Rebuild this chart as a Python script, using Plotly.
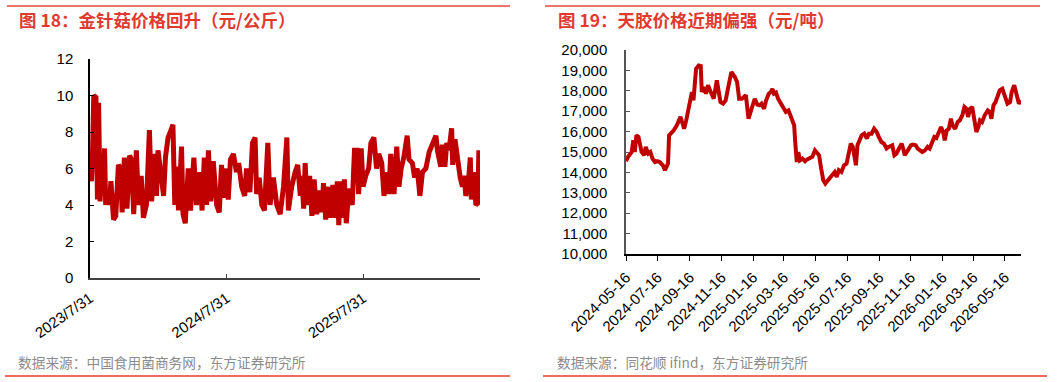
import plotly.graph_objects as go

# ---------------- data ----------------
mush_dates = [
    "2023-07-31","2023-08-04","2023-08-07","2023-08-10","2023-08-16","2023-08-20","2023-08-23","2023-08-27","2023-09-01","2023-09-04",
    "2023-09-08","2023-09-11","2023-09-16","2023-09-21","2023-09-25","2023-10-02","2023-10-08","2023-10-15","2023-10-21","2023-10-25",
    "2023-10-31","2023-11-07","2023-11-14","2023-11-19","2023-11-25","2023-12-02","2023-12-08","2023-12-15","2023-12-21","2023-12-29",
    "2024-01-06","2024-01-12","2024-01-20","2024-01-25","2024-01-29","2024-02-04","2024-02-13","2024-02-18","2024-02-25","2024-03-02",
    "2024-03-09","2024-03-14","2024-03-18","2024-03-24","2024-04-01","2024-04-05","2024-04-11","2024-04-19","2024-04-25","2024-05-04",
    "2024-05-11","2024-05-20","2024-05-26","2024-06-01","2024-06-07","2024-06-12","2024-06-18","2024-06-25","2024-07-04","2024-07-11",
    "2024-07-17","2024-07-23","2024-07-31","2024-08-04","2024-08-10","2024-08-18","2024-08-26","2024-09-01","2024-09-09","2024-09-17",
    "2024-09-22","2024-10-01","2024-10-08","2024-10-15","2024-10-19","2024-10-26","2024-11-02","2024-11-09","2024-11-18","2024-11-24",
    "2024-12-03","2024-12-12","2024-12-21","2024-12-30","2025-01-08","2025-01-12","2025-01-21","2025-01-30","2025-02-06","2025-02-13",
    "2025-02-17","2025-02-22","2025-02-26","2025-03-03","2025-03-10","2025-03-16","2025-03-22","2025-03-29","2025-04-06","2025-04-12",
    "2025-04-16","2025-04-22","2025-04-30","2025-05-04","2025-05-11","2025-05-18","2025-05-23","2025-05-27","2025-05-31","2025-06-05",
    "2025-06-11","2025-06-16","2025-06-23","2025-07-02","2025-07-08","2025-07-15","2025-07-19","2025-07-26","2025-07-31","2025-08-07",
    "2025-08-15","2025-08-21","2025-08-29","2025-09-05","2025-09-11","2025-09-19","2025-09-25","2025-10-02","2025-10-08","2025-10-13",
    "2025-10-22","2025-10-29","2025-11-04","2025-11-10","2025-11-17","2025-11-26","2025-12-01","2025-12-10","2025-12-16","2025-12-23",
    "2025-12-30","2026-01-06","2026-01-15","2026-01-24","2026-02-02","2026-02-11","2026-02-15","2026-02-24","2026-02-28","2026-03-07",
    "2026-03-12","2026-03-18","2026-03-25","2026-03-28","2026-04-03","2026-04-10","2026-04-17","2026-04-23","2026-04-28","2026-05-02",
    "2026-05-08","2026-05-14","2026-05-17","2026-05-23","2026-05-29","2026-06-03","2026-06-06","2026-06-09",
]
mush_price = [
    6.8,5.3,7.0,10.0,9.9,4.3,9.6,4.2,6.8,4.5,
    7.1,4.0,4.8,4.0,5.3,3.2,3.4,6.2,6.0,3.6,
    6.6,3.8,6.7,6.5,3.5,7.0,4.0,5.6,3.3,4.0,
    8.1,4.2,6.8,4.5,7.0,6.0,4.5,6.6,7.7,8.0,
    8.4,4.0,6.1,3.7,7.2,3.5,3.0,6.0,3.7,6.6,
    4.0,5.8,3.7,6.6,4.0,7.0,4.2,6.4,4.0,3.6,
    6.2,4.4,6.0,4.3,6.5,6.8,5.8,6.3,5.0,4.5,
    6.0,4.7,7.4,7.7,4.6,5.5,4.0,3.7,7.4,4.0,
    5.5,4.0,3.5,5.0,7.7,3.7,5.0,5.8,6.2,4.5,
    5.6,3.8,6.3,4.0,5.6,3.4,5.4,3.5,4.8,3.6,
    5.2,3.2,5.0,3.3,5.1,3.3,5.3,2.9,5.3,3.3,
    5.4,3.0,4.9,4.0,7.0,7.0,4.6,7.1,5.0,5.6,
    6.0,7.4,7.7,6.0,6.8,6.3,4.5,5.8,4.6,6.8,
    4.6,7.2,5.0,6.0,6.6,7.8,6.5,6.3,5.5,6.0,
    4.5,5.8,6.0,6.9,7.4,7.8,7.0,6.1,7.3,6.1,
    7.4,7.0,8.2,6.2,7.6,6.5,5.5,5.0,5.6,4.5,
    5.0,6.6,4.3,5.8,4.0,4.1,7.0,4.6,
]
mush_tickvals = ["2023-07-31", "2024-07-31", "2025-07-31"]
mush_ticktext = ["2023/7/31", "2024/7/31", "2025/7/31"]

rubber_dates = [
    "2024-05-16","2024-05-20","2024-05-27","2024-05-30","2024-06-02","2024-06-05","2024-06-09","2024-06-12","2024-06-15","2024-06-20",
    "2024-06-23","2024-06-28","2024-07-02","2024-07-06","2024-07-11","2024-07-15","2024-07-20","2024-07-26","2024-07-30","2024-08-02",
    "2024-08-05","2024-08-07","2024-08-12","2024-08-16","2024-08-22","2024-08-27","2024-08-29","2024-09-01","2024-09-05","2024-09-09",
    "2024-09-12","2024-09-16","2024-09-20","2024-09-23","2024-09-25","2024-09-28","2024-10-03","2024-10-07","2024-10-09","2024-10-13",
    "2024-10-17","2024-10-21","2024-10-25","2024-10-29","2024-11-01","2024-11-07","2024-11-10","2024-11-14","2024-11-19","2024-11-24",
    "2024-11-29","2024-12-05","2024-12-12","2024-12-16","2024-12-20","2024-12-25","2024-12-29","2025-01-02","2025-01-07","2025-01-11",
    "2025-01-15","2025-01-19","2025-01-24","2025-01-28","2025-02-01","2025-02-06","2025-02-10","2025-02-15","2025-02-19","2025-02-22",
    "2025-02-25","2025-03-01","2025-03-05","2025-03-10","2025-03-15","2025-03-20","2025-03-25","2025-03-29","2025-04-02","2025-04-05",
    "2025-04-07","2025-04-10","2025-04-13","2025-04-16","2025-04-21","2025-04-26","2025-04-30","2025-05-05","2025-05-10","2025-05-15",
    "2025-05-19","2025-05-23","2025-05-27","2025-05-31","2025-06-04","2025-06-10","2025-06-16","2025-06-22","2025-06-26","2025-06-30",
    "2025-07-05","2025-07-10","2025-07-15","2025-07-18","2025-07-23","2025-07-27","2025-07-30","2025-08-02","2025-08-05","2025-08-10",
    "2025-08-13","2025-08-18","2025-08-23","2025-08-27","2025-09-01","2025-09-06","2025-09-11","2025-09-15","2025-09-20","2025-09-25",
    "2025-09-30","2025-10-04","2025-10-11","2025-10-15","2025-10-19","2025-10-24","2025-10-29","2025-11-01","2025-11-04","2025-11-10",
    "2025-11-16","2025-11-20","2025-11-25","2025-11-29","2025-12-03","2025-12-08","2025-12-13","2025-12-18","2025-12-22","2025-12-26",
    "2025-12-31","2026-01-04","2026-01-09","2026-01-13","2026-01-17","2026-01-20","2026-01-24","2026-01-28","2026-02-01","2026-02-04",
    "2026-02-09","2026-02-14","2026-02-18","2026-02-23","2026-02-27","2026-03-03","2026-03-06","2026-03-10","2026-03-14","2026-03-18",
    "2026-03-22","2026-03-26","2026-03-29","2026-04-02","2026-04-07","2026-04-13","2026-04-17","2026-04-20","2026-04-24","2026-04-28",
    "2026-05-02","2026-05-06","2026-05-11","2026-05-16","2026-05-21","2026-05-26","2026-05-29","2026-06-03","2026-06-07","2026-06-12",
    "2026-06-16",
]
rubber_price = [
    14550,14760,15000,15570,15000,15820,15740,15330,15000,14840,
    15250,14920,15000,14680,14510,14550,14510,14350,14110,14270,
    14430,15820,15950,16060,16310,16550,16720,16470,16140,16550,
    16880,17450,17940,17530,18180,19080,19240,19210,17940,18180,
    17860,18270,18020,17780,17610,18510,18100,17450,17370,17530,
    18180,18920,18670,18430,17610,17610,17690,17780,16630,16960,
    17290,17610,17320,17290,17370,17120,17530,17860,17940,18100,
    17860,17910,17610,17370,17120,16960,17040,16800,16550,16310,
    15490,14510,15000,14590,14680,14550,14640,14680,14760,15080,
    14920,14840,14190,13620,13450,13620,13860,14020,13780,14110,
    14020,14350,14430,14840,15410,15250,14840,14350,15330,15660,
    15820,15900,15660,15900,15900,16140,15980,15740,15490,15410,
    15170,15250,15330,14840,14920,15170,15410,15170,14840,15080,
    15330,15360,15330,15170,15080,15000,15080,15250,15170,15490,
    15740,15690,16060,16230,15980,15570,16060,16140,16630,16310,
    16140,16470,16550,16800,17210,17120,16720,17120,17210,16470,
    15980,16230,16550,16470,16800,17040,16960,16630,17290,17450,
    17690,18020,18100,17780,17370,17450,17940,18270,17780,17370,
    17530,
]
rubber_tickvals = ["2024-05-16","2024-07-16","2024-09-16","2024-11-16","2025-01-16","2025-03-16",
                   "2025-05-16","2025-07-16","2025-09-16","2025-11-16","2026-01-16","2026-03-16","2026-05-16"]
rubber_ticktext = rubber_tickvals

title_left = "图 18：金针菇价格回升（元/公斤）"
title_right = "图 19：天胶价格近期偏强（元/吨）"
source_left = "数据来源：中国食用菌商务网，东方证券研究所"
source_right = "数据来源：同花顺 ifind，东方证券研究所"

# ---------------- figure ----------------
W, H = 1061, 382
LINE = "#C00000"
RED = "#E03A2F"
LAT = "Liberation Sans, Arial, sans-serif"
CJK = "Noto Sans CJK SC, sans-serif"

fig = go.Figure()
fig.add_trace(go.Scatter(x=mush_dates, y=mush_price, mode="lines",
                         line=dict(color=LINE, width=5), xaxis="x", yaxis="y",
                         showlegend=False, hoverinfo="skip"))
fig.add_trace(go.Scatter(x=rubber_dates, y=rubber_price, mode="lines",
                         line=dict(color=LINE, width=4), xaxis="x2", yaxis="y2",
                         showlegend=False, hoverinfo="skip"))

tickfont = dict(family=LAT, size=15, color="#000000")

fig.update_layout(
    width=W, height=H, margin=dict(l=0, r=0, t=0, b=0, pad=0, autoexpand=False),
    paper_bgcolor="white", plot_bgcolor="white",
    xaxis=dict(domain=[90 / W, 480 / W], type="date",
               range=["2023-07-31", "2026-06-09"],
               tickvals=mush_tickvals, ticktext=mush_ticktext, tickangle=-35,
               showline=True, linecolor="#404040", linewidth=1.5,
               ticks="inside", ticklen=4, tickcolor="#404040",
               showgrid=False, zeroline=False, tickfont=tickfont,
               anchor="y", ticklabelstandoff=4, automargin=False),
    yaxis=dict(domain=[1 - 278 / H, 1 - 59 / H], range=[0, 12], dtick=2, tick0=0,
               showline=True, linecolor="#000000", linewidth=1.5,
               ticks="inside", ticklen=4, tickcolor="#000000",
               showgrid=False, zeroline=False, tickfont=tickfont,
               anchor="x", ticklabelstandoff=12, automargin=False),
    xaxis2=dict(domain=[626 / W, 1021 / W], type="date",
                range=["2024-05-16", "2026-06-16"],
                tickvals=rubber_tickvals, ticktext=rubber_ticktext, tickangle=-45,
                showline=True, linecolor="#000000", linewidth=1.5,
                ticks="outside", ticklen=5, tickcolor="#000000",
                showgrid=False, zeroline=False, tickfont=tickfont,
                anchor="y2", ticklabelstandoff=2, automargin=False),
    yaxis2=dict(domain=[1 - 254 / H, 1 - 50 / H], range=[10000, 20000], dtick=1000,
                tickformat=",d",
                showline=True, linecolor="#555555", linewidth=1.5,
                ticks="inside", ticklen=4, tickcolor="#555555",
                showgrid=False, zeroline=False, tickfont=tickfont,
                anchor="x2", ticklabelstandoff=14, automargin=False),
)

# frame lines
fig.add_shape(type="line", xref="paper", yref="paper", x0=7 / W, x1=510 / W,
              y0=1 - 6 / H, y1=1 - 6 / H, line=dict(color="#E8453C", width=1.5))
fig.add_shape(type="line", xref="paper", yref="paper", x0=545 / W, x1=1040 / W,
              y0=1 - 6 / H, y1=1 - 6 / H, line=dict(color="#E8453C", width=1.5))
fig.add_shape(type="line", xref="paper", yref="paper", x0=5 / W, x1=510 / W,
              y0=1 - 376 / H, y1=1 - 376 / H, line=dict(color="#F06A60", width=2))
fig.add_shape(type="line", xref="paper", yref="paper", x0=543 / W, x1=1047 / W,
              y0=1 - 376 / H, y1=1 - 376 / H, line=dict(color="#F06A60", width=2))

# titles
fig.add_annotation(text=title_left, xref="paper", yref="paper", x=17 / W, y=1 - 20 / H,
                   xanchor="left", yanchor="middle", showarrow=False,
                   font=dict(family=CJK, size=17.5, color=RED, weight="bold"))
fig.add_annotation(text=title_right, xref="paper", yref="paper", x=556 / W, y=1 - 20 / H,
                   xanchor="left", yanchor="middle", showarrow=False,
                   font=dict(family=CJK, size=17.5, color=RED, weight="bold"))
# sources
fig.add_annotation(text=source_left, xref="paper", yref="paper", x=16 / W, y=1 - 362 / H,
                   xanchor="left", yanchor="middle", showarrow=False,
                   font=dict(family=CJK, size=13.7, color="#8C8C8C"))
fig.add_annotation(text=source_right, xref="paper", yref="paper", x=555 / W, y=1 - 362 / H,
                   xanchor="left", yanchor="middle", showarrow=False,
                   font=dict(family=CJK, size=13.7, color="#8C8C8C"))

fig.write_html("out.html")
